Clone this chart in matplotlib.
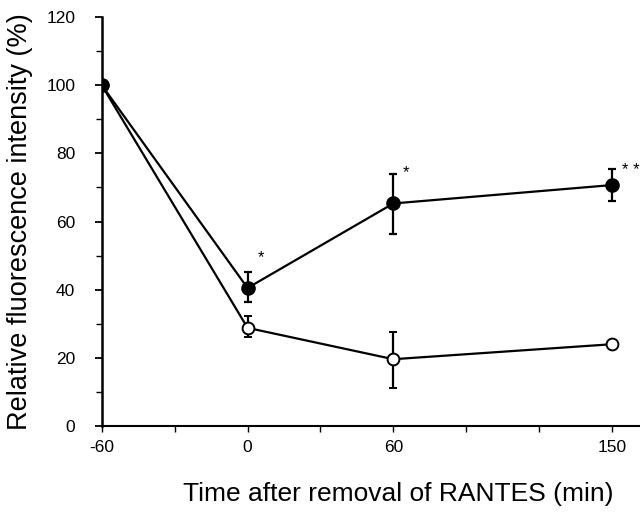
import numpy as np
import matplotlib.pyplot as plt
from matplotlib.ticker import MultipleLocator

plt.rcParams["font.family"] = ["Liberation Sans", "DejaVu Sans"]

# data
time = [-60, 0, 60, 150]
filled = [100, 40.5, 65.3, 70.7]
filled_err_lo = [0, 4.0, 9.1, 4.6]
filled_err_hi = [0, 4.7, 8.6, 4.7]
open_ = [100, 28.8, 19.6, 24.0]
open_err_lo = [0, 2.8, 8.4, 0]
open_err_hi = [0, 3.5, 7.9, 0]

star_x = [0, 60, 150]
star_y = [49.5, 74.2, 75.0]
star_txt = ["*", "*", "* *"]

xticks = [-60, -30, 0, 30, 60, 90, 120, 150]
xticklabels = ["-60", "", "0", "", "60", "", "", "150"]

fig = plt.figure(figsize=(6.4, 5.16), dpi=100)
ax = fig.add_axes([0.159, 0.1744, 0.841, 0.7926])

ax.errorbar(time, open_, yerr=[open_err_lo, open_err_hi], color="k", lw=1.6,
            marker="o", ms=8.5, mfc="white", mec="k", mew=1.4,
            capsize=3, elinewidth=1.6, capthick=1.6, zorder=3)
ax.errorbar(time, filled, yerr=[filled_err_lo, filled_err_hi], color="k", lw=1.6,
            marker="o", ms=9.5, mfc="k", mec="k",
            capsize=3, elinewidth=1.6, capthick=1.6, zorder=4)

for x, y, t in zip(star_x, star_y, star_txt):
    ax.text(x + 4, y, t, fontsize=12, ha="left", va="center")

ax.set_xlim(-60, 161.5)
ax.set_ylim(0, 120)
ax.set_xticks(xticks)
ax.set_xticklabels(xticklabels)
ax.yaxis.set_major_locator(MultipleLocator(20))
ax.yaxis.set_minor_locator(MultipleLocator(10))

for side in ["top", "right"]:
    ax.spines[side].set_visible(False)
ax.spines["left"].set_linewidth(1.8)
ax.spines["bottom"].set_linewidth(1.5)
ax.spines["left"].set_zorder(5)

ax.tick_params(axis="y", which="major", length=5, width=1.3, labelsize=12.5, pad=14)
ax.tick_params(axis="y", which="minor", length=4, width=1.0)
ax.tick_params(axis="x", which="major", length=4, width=1.0, labelsize=12.5, pad=6)

ax.set_ylabel("Relative fluorescence intensity (%)", fontsize=19.5)
ax.yaxis.set_label_coords(-0.128, 0.5)
ax.set_xlabel("Time after removal of RANTES (min)", fontsize=19)
ax.xaxis.set_label_coords(0.55, -0.137)

fig.savefig("out.png", dpi=100)
